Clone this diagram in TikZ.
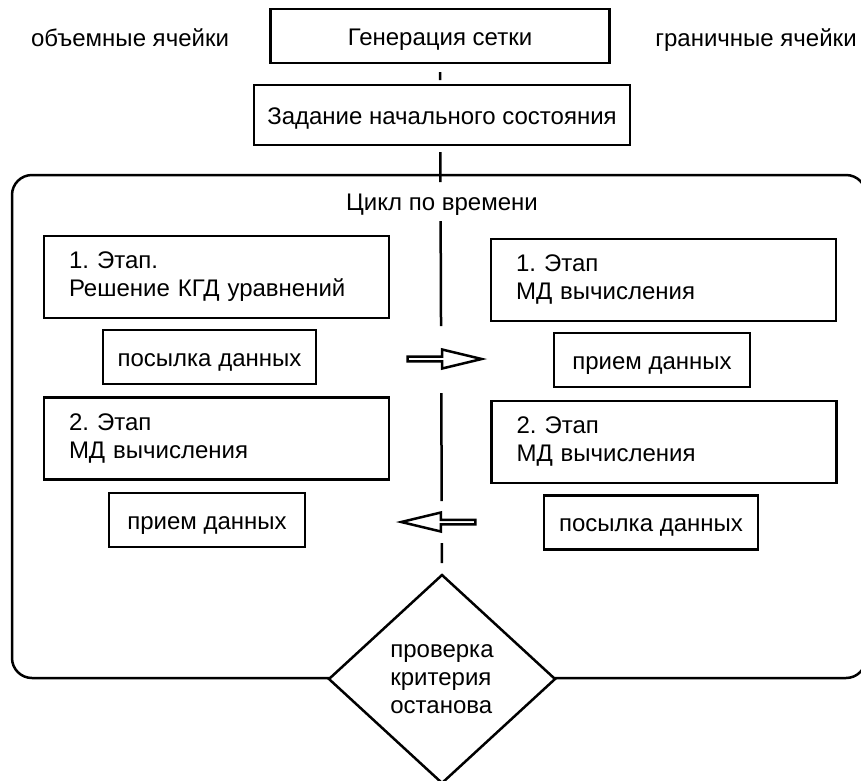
\documentclass[tikz,border=0pt]{standalone}
\usepackage{fontspec}
\setmainfont{Liberation Sans}
\usetikzlibrary{shapes.geometric, shapes.arrows}
\frenchspacing

\begin{document}
\begin{tikzpicture}[x=1pt, y=-1pt, line width=2.5pt]
  \tikzstyle{txt}=[inner sep=0pt, outer sep=0pt, font=\fontsize{24}{28}\selectfont]
  \tikzstyle{oneline}=[txt, text height=22pt, text depth=4pt]
  \tikzstyle{block}=[txt, draw]
  \tikzstyle{stage}=[block, align=left, inner xsep=25pt, text width=295pt, minimum height=82pt]
  \tikzstyle{msg}=[block, oneline, minimum height=54pt]
  \tikzstyle{pass}=[single arrow, draw, minimum height=74pt, minimum width=19pt,
    single arrow head extend=4pt, single arrow tip angle=27, inner sep=0pt, outer sep=0pt]

  \useasboundingbox (0,0) rectangle (861,780);

  \node[block, oneline, minimum width=339pt, minimum height=54pt] (gen) at (440,36) {Генерация сетки};
  \node[oneline] (vol) at (130,37) {объемные ячейки}; % left label
  \node[oneline] (bnd) at (756,37) {граничные ячейки}; % right label
  \node[block, oneline, minimum width=376pt, minimum height=60pt] (init) at (442,115) {Задание начального состояния};

  \draw[rounded corners=20pt] (12,175) rectangle (866,678); % time loop frame
  \node[oneline] (loop) at (442,201) {Цикл по времени};

  % volume cells
  \node[stage] (stageL1) at (216.5,277) {1. Этап.\\Решение КГД уравнений};
  \node[msg, minimum width=213pt] (sendL) at (209.5,357) {посылка данных};
  \node[stage] (stageL2) at (216.5,438.5) {2. Этап\\МД вычисления};
  \node[msg, minimum width=196pt] (recvL) at (207,520) {прием данных};

  % boundary cells
  \node[stage] (stageR1) at (663.5,280) {1. Этап\\МД вычисления};
  \node[msg, minimum width=196pt] (recvR) at (652,360) {прием данных};
  \node[stage] (stageR2) at (664,442) {2. Этап\\МД вычисления};
  \node[msg, minimum width=214pt] (sendR) at (651,522.5) {посылка данных};

  \node[pass] (toR) at (440,359) {}; % send arrow
  \node[pass, shape border rotate=180] (toL) at (443,522) {}; % receive arrow

  \node[txt, diamond, draw, fill=white, minimum width=226pt, minimum height=208pt, align=left] (check) at (442,679)
    {проверка\\критерия\\останова};

  \draw[dash pattern=on 0pt off 9pt on 8pt off 72pt on 30pt off 39pt on 105pt off 67pt on 108pt off 42pt on 20pt off 20pt]
    (gen.south) -- (check.north); % divider
\end{tikzpicture}
\end{document}
